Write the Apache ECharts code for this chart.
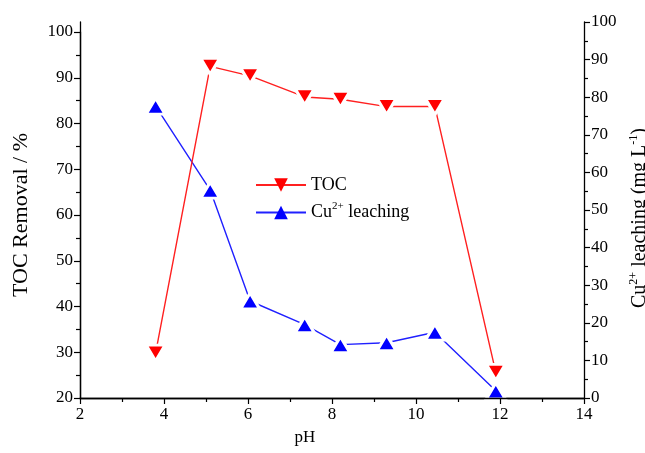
<!DOCTYPE html>
<html>
<head>
<meta charset="utf-8">
<script src="https://cdn.jsdelivr.net/npm/echarts@6/dist/echarts.min.js"></script>
<style>
  html, body { margin: 0; padding: 0; background: #ffffff; }
  #chart { width: 645px; height: 453px; }
</style>
</head>
<body>
<div id="chart"></div>
<script>
// pH of each run and the measured responses
const phValues   = [3.8, 5.1, 6.05, 7.35, 8.2, 9.3, 10.45, 11.9];
const tocRemoval = [29.8, 92.5, 90.4, 85.8, 85.3, 83.7, 83.7, 25.6];   // %
const cuLeaching = [77.6, 55.3, 25.8, 19.5, 14.2, 14.7, 17.5, 1.9];    // mg L-1

const seriesNames = ['TOC', 'Cu leaching'];

const FONT = '"Liberation Serif", "Times New Roman", serif';
const pairs = (xs, ys) => xs.map((x, i) => [x, ys[i]]);

const chart = echarts.init(document.getElementById('chart'), null, { renderer: 'canvas' });

const blackLine = { show: true, lineStyle: { color: '#000', width: 1.3 } };
const majorTick = { show: true, inside: false, length: 6, lineStyle: { color: '#000', width: 1.2 } };
const minorTick = { show: true, splitNumber: 2, length: 4, lineStyle: { color: '#000', width: 1.2 } };
const tickLabel = { fontFamily: FONT, fontSize: 17, color: '#000' };

// marker look: solid triangle with a white rim so the joining line stops short of it
const markerRim = { borderColor: '#ffffff', borderWidth: 3 };

chart.setOption({
  backgroundColor: '#ffffff',
  animation: false,
  grid: [
    { left: 80, right: 61, top: 32, bottom: 55, outerBoundsMode: 'none', containLabel: false },
    { left: 80, right: 61, top: 22, bottom: 55, outerBoundsMode: 'none', containLabel: false }
  ],
  legend: {
    data: seriesNames,
    orient: 'vertical',
    left: 250,
    top: 171,
    itemWidth: 50,
    itemHeight: 17,
    itemGap: 7,
    itemStyle: { borderWidth: 0 },
    textStyle: {
      fontFamily: FONT, fontSize: 18, color: '#000',
      rich: {
        a: { fontFamily: FONT, fontSize: 18, color: '#000' },
        s: { fontFamily: FONT, fontSize: 11, color: '#000', padding: [0, 0, 12, 0] }
      }
    },
    formatter: name => name === 'Cu leaching' ? '{a|Cu}{s|2+}{a| leaching}' : '{a|' + name + '}'
  },
  xAxis: [
    {
      gridIndex: 0, type: 'value', position: 'bottom', z: 5,
      min: 2, max: 14, interval: 2,
      axisLine: blackLine, axisTick: majorTick, minorTick: minorTick,
      splitLine: { show: false },
      axisLabel: Object.assign({ margin: 8 }, tickLabel),
      name: 'pH', nameLocation: 'middle', nameGap: 31,
      nameTextStyle: { fontFamily: FONT, fontSize: 17, color: '#000', padding: [0, 54, 0, 0] }
    },
    {
      gridIndex: 1, type: 'value', position: 'top',
      min: 2, max: 14,
      axisLine: blackLine,
      axisTick: { show: false }, axisLabel: { show: false }, splitLine: { show: false }
    }
  ],
  yAxis: [
    {
      gridIndex: 0, type: 'value', position: 'left',
      min: 20, max: 100, interval: 10,
      axisLine: blackLine, axisTick: majorTick, minorTick: minorTick,
      splitLine: { show: false },
      axisLabel: Object.assign({ margin: 7 }, tickLabel),
      name: 'TOC Removal / %', nameLocation: 'middle', nameGap: 48, nameRotate: 90,
      nameTextStyle: { fontFamily: FONT, fontSize: 22, color: '#000' }
    },
    {
      gridIndex: 1, type: 'value', position: 'right',
      min: 0, max: 100, interval: 10,
      axisLine: blackLine, axisTick: majorTick, minorTick: minorTick,
      splitLine: { show: false },
      axisLabel: Object.assign({ margin: 7 }, tickLabel),
      name: '{a|Cu}{s|2+}{a| leaching (mg L}{s|-1}{a|)}',
      nameLocation: 'middle', nameGap: 41, nameRotate: 90,
      nameTextStyle: {
        fontFamily: FONT, fontSize: 20, color: '#000', padding: [0, 16, 0, 0],
        rich: {
          a: { fontFamily: FONT, fontSize: 20, color: '#000', lineHeight: 24 },
          s: { fontFamily: FONT, fontSize: 12, color: '#000', padding: [0, 0, 12, 0] }
        }
      }
    },
    {
      gridIndex: 1, type: 'value', position: 'left',
      min: 0, max: 100,
      axisLine: blackLine,
      axisTick: { show: false }, axisLabel: { show: false }, splitLine: { show: false }
    }
  ],
  series: [
    {
      name: seriesNames[0], type: 'line',
      xAxisIndex: 0, yAxisIndex: 0,
      data: pairs(phValues, tocRemoval),
      symbol: 'triangle', symbolRotate: 180, symbolSize: [19, 16],
      itemStyle: Object.assign({ color: '#ff0000' }, markerRim),
      lineStyle: { color: '#ff2020', width: 1.4 },
      z: 3
    },
    {
      name: seriesNames[1], type: 'line',
      xAxisIndex: 1, yAxisIndex: 1,
      data: pairs(phValues, cuLeaching),
      symbol: 'triangle', symbolSize: [19, 16],
      itemStyle: Object.assign({ color: '#0000ff' }, markerRim),
      lineStyle: { color: '#2020ff', width: 1.4 },
      z: 2
    }
  ]
});
</script>
</body>
</html>
